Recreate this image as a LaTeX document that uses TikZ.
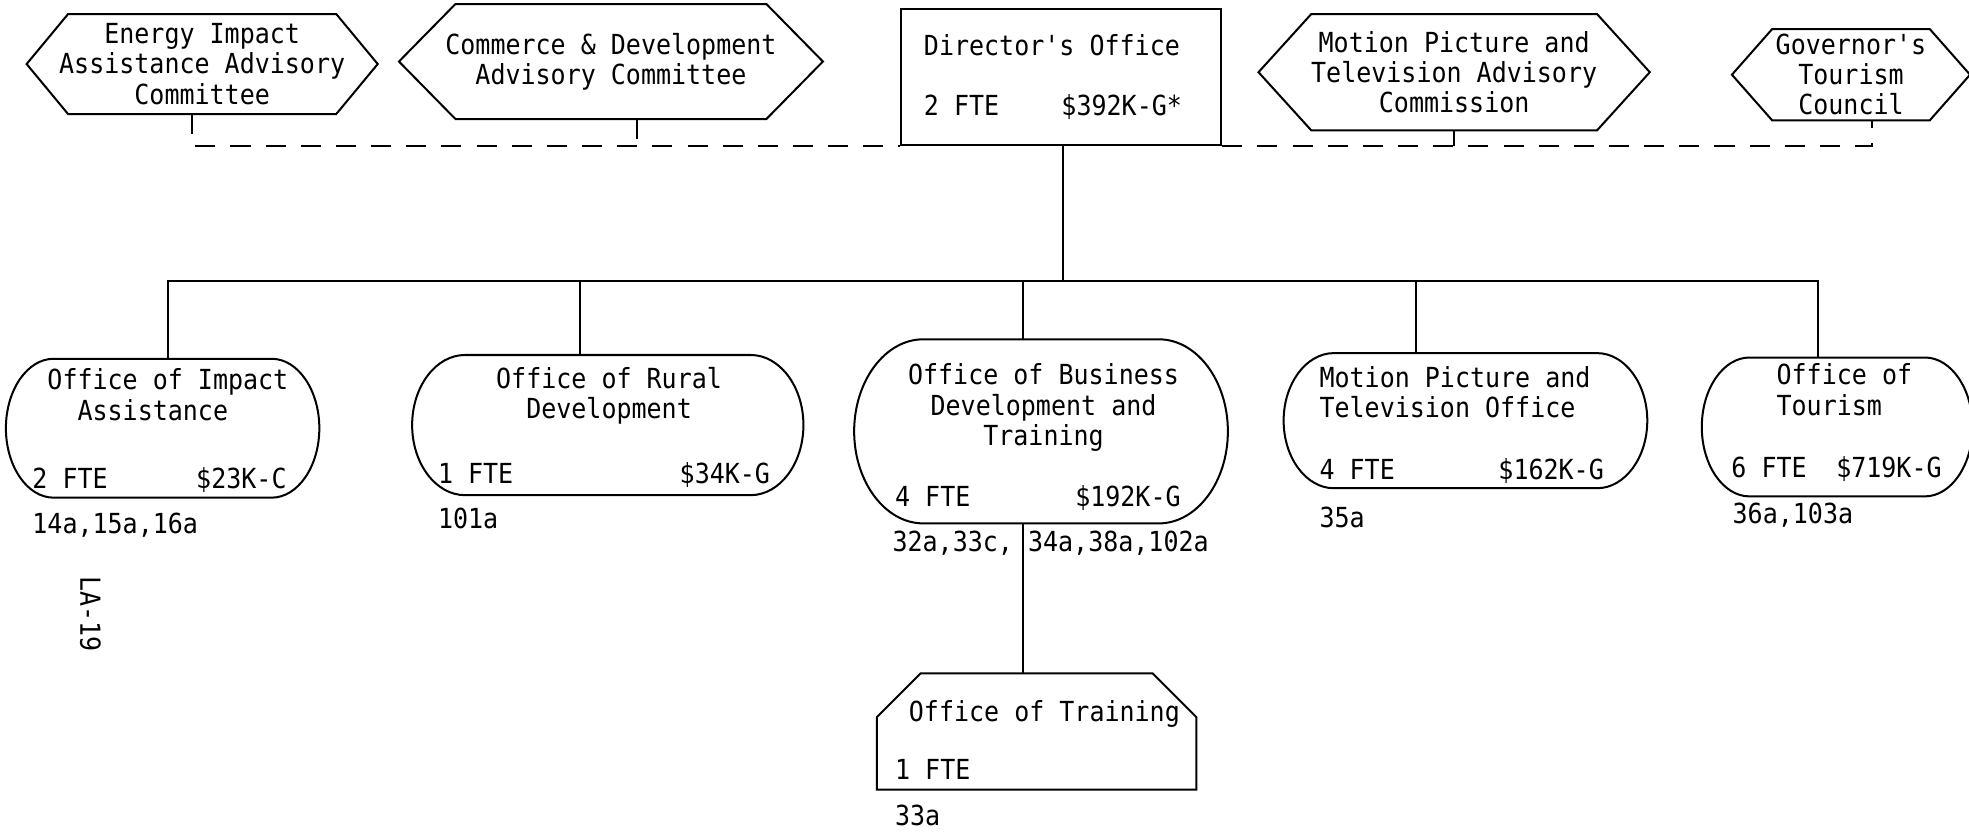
\documentclass[tikz,border=0pt]{standalone}
\usepackage{fontspec}
\setmonofont{DejaVu Sans Mono}[FakeStretch=0.905]
\usetikzlibrary{positioning,calc}

\begin{document}
\begin{tikzpicture}[
  x=1pt, y=-1pt, line width=1.6pt,
  font=\ttfamily\fontsize{22}{24}\selectfont,
  board/.style={inner sep=0pt,align=center},
  office/.style={inner sep=0pt},
  ttl/.style={inner sep=0pt,anchor=north,align=center},
  fte/.style={inner sep=0pt,anchor=base west},
  amt/.style={inner sep=0pt,anchor=base east},
  dashline/.style={dash pattern=on 16pt off 12pt}
]
\useasboundingbox (0,0) rectangle (1568,663);

\node[board,minimum width=278pt,minimum height=78pt] (ea) at (161,51) {Energy Impact\\Assistance Advisory\\Committee};
\node[board,minimum width=336pt,minimum height=90pt] (cd) at (486.5,49) {Commerce \& Development\\Advisory Committee};
\node[board,minimum width=310pt,minimum height=91pt] (mpa) at (1158,57.5) {Motion Picture and\\Television Advisory\\Commission};
\node[board,minimum width=188pt,minimum height=71pt] (gt) at (1474,59.5) {Governor's\\Tourism\\Council};
\foreach \n/\d in {ea/33,cd/45,mpa/42,gt/32}
  \draw (\n.west) -- ([xshift=\d pt]\n.north west) -- ([xshift=-\d pt]\n.north east)
    -- (\n.east) -- ([xshift=-\d pt]\n.south east) -- ([xshift=\d pt]\n.south west) -- cycle;

\node[draw,minimum width=255pt,minimum height=108pt] (dir) at (845,61.5) {};
\node[fte] (dirt) at (735,44) {Director's Office};
\node[fte] (dirf) at (735,92) {2 FTE};
\node[amt] (dirb) at (942,92) {\$392K-G*};

\node[office,minimum width=248pt,minimum height=109pt] (ia) at (129.5,341) {};
\node[office,minimum width=310pt,minimum height=110pt] (rd) at (484,338.5) {};
\node[office,minimum width=296pt,minimum height=145pt] (bd) at (829,343.5) {};
\node[office,minimum width=288pt,minimum height=106pt] (mp) at (1167,335) {};
\node[office,minimum width=214pt,minimum height=109pt] (tr) at (1463,340) {};
\foreach \n/\r in {ia/38pt,rd/42pt,bd/55pt,mp/40pt,tr/38pt}
  \draw ([xshift=\r]\n.north west) -- ([xshift=-\r]\n.north east)
    .. controls ([xshift=-0.45*\r]\n.north east) and ($(\n.north east)!0.45!(\n.east)$) .. (\n.east)
    .. controls ($(\n.south east)!0.45!(\n.east)$) and ([xshift=-0.45*\r]\n.south east) .. ([xshift=-\r]\n.south east)
    -- ([xshift=\r]\n.south west)
    .. controls ([xshift=0.45*\r]\n.south west) and ($(\n.south west)!0.45!(\n.west)$) .. (\n.west)
    .. controls ($(\n.north west)!0.45!(\n.west)$) and ([xshift=0.45*\r]\n.north west) .. ([xshift=\r]\n.north west)
    -- cycle;

\node[ttl,anchor=north west,align=left] (iat) at (37,293) {Office of Impact\\\phantom{xx}Assistance};
\node[ttl] (rdt) at (485,292) {Office of Rural\\Development};
\node[ttl] (bdt) at (831,289) {Office of Business\\Development and\\Training};
\node[ttl,anchor=north west,align=left] (mpt) at (1050,291) {Motion Picture and\\Television Office};
\node[ttl,anchor=north west,align=left] (trt) at (1414,289) {Office of\\Tourism};

\node[fte] (iaf) at (25,389) {2 FTE};
\node[amt] (iab) at (229,389) {\$23K-C};
\node[fte] (rdf) at (348,385) {1 FTE};
\node[amt] (rdb) at (614,385) {\$34K-G};
\node[fte] (bdf) at (712,403.5) {4 FTE};
\node[amt] (bdb) at (941,403.5) {\$192K-G};
\node[fte] (mpf) at (1050,382) {4 FTE};
\node[amt] (mpb) at (1278,382) {\$162K-G};
\node[fte] (trf) at (1378,380) {6 FTE};
\node[amt] (trb) at (1547,380) {\$719K-G};

\node[fte] (iar) at (25,425) {14a,15a,16a};
\node[fte] (rdr) at (348,421) {101a};
\node[fte] (bdr) at (710,439) {32a,33c, 34a,38a,102a};
\node[fte] (mpr) at (1050,420) {35a};
\node[fte] (trr) at (1379,417) {36a,103a};

\node[minimum width=253pt,minimum height=91pt,inner sep=0pt] (ot) at (825.5,582.5) {};
\draw (ot.south west) -- ([yshift=-35pt]ot.north west) -- ([xshift=35pt]ot.north west)
  -- ([xshift=-35pt]ot.north east) -- ([yshift=-35pt]ot.north east) -- (ot.south east) -- cycle;
\node[fte] (ott) at (723,574.5) {Office of Training};
\node[fte] (otf) at (712,621) {1 FTE};
\node[fte] (otr) at (712,657) {33a};

\node[rotate=-90,inner sep=0pt] (pg) at (72,489) {LA-19};

\coordinate (bus) at (846.5,224);
\draw ([xshift=1.5pt]dir.south) -- (bus);
\draw ([xshift=4pt]ia.north) |- (bus) -| ([xshift=-15pt]tr.north);
\foreach \o/\s in {rd/-22,bd/-14,mp/-39}
  \draw ([xshift=\s pt]\o.north) -- ([xshift=\s pt]\o.north |- bus);
\draw ([xshift=-14pt]bd.south) -- ([xshift=-14pt]bd.south |- ot.north);

\draw[dashline] ([xshift=-8pt]ea.south) |- (dir.south west);
\draw[dashline] ([xshift=21pt]cd.south) -- ([xshift=21pt]cd.south |- dir.south);
\draw[dashline] (mpa.south) -- (mpa.south |- dir.south);
\draw[dashline] (dir.south east) -| ([xshift=17pt]gt.south);
\end{tikzpicture}
\end{document}
